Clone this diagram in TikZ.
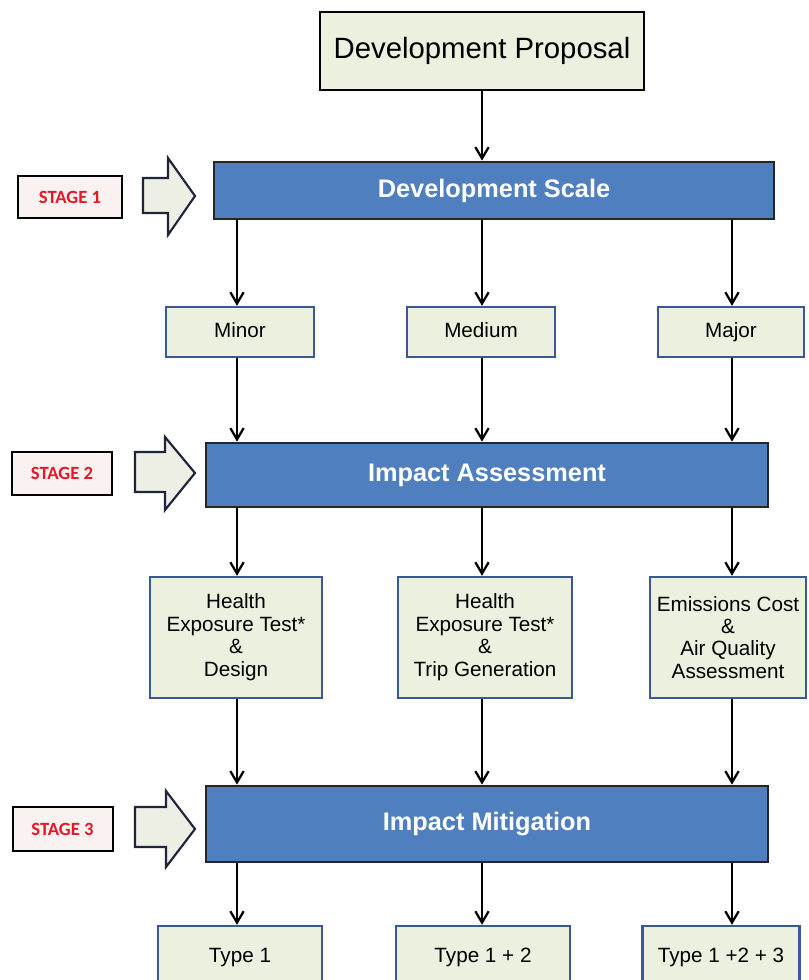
\documentclass[tikz,border=0pt]{standalone}
\usepackage{fontspec}
\setmainfont{Liberation Sans}
\newfontfamily\stagefont{Carlito}
\usetikzlibrary{arrows.meta}

\definecolor{palegreen}{RGB}{235,241,222}
\definecolor{barblue}{RGB}{79,127,190}
\definecolor{boxblue}{RGB}{58,88,148}
\definecolor{stagepink}{RGB}{249,242,240}
\definecolor{stagered}{RGB}{232,22,40}
\definecolor{arrowfill}{RGB}{238,239,228}
\definecolor{arrowedge}{RGB}{30,36,58}

\tikzset{
  propbox/.style={draw=black, line width=1.5pt, fill=palegreen, inner sep=0pt,
    font=\fontsize{22}{26}\selectfont},
  barbox/.style={draw=black!85, line width=2pt, fill=barblue, inner sep=0pt,
    text=white, font=\fontsize{19}{23}\selectfont\bfseries},
  sizebox/.style={draw=boxblue, line width=1.8pt, fill=palegreen, inner sep=0pt,
    minimum height=37.5pt, text height=11pt, text depth=3pt,
    font=\fontsize{15.5}{17}\selectfont},
  testbox/.style={draw=boxblue, line width=1.8pt, fill=palegreen, inner sep=0pt,
    minimum height=90.75pt, align=center,
    font=\fontsize{15.5}{16.8}\selectfont},
  typebox/.style={sizebox, minimum height=46.5pt},
  stagebox/.style={draw=black, line width=1.5pt, fill=stagepink, inner sep=0pt,
    text=stagered, font=\fontsize{14}{16}\stagefont\bfseries},
  stagearrow/.style={draw=arrowedge, line width=1.6pt, fill=arrowfill, line join=miter},
  flow/.style={-{Straight Barb[length=8.5pt,width=10pt]}, line width=1.7pt}
}

\begin{document}
\begin{tikzpicture}[x=0.75pt,y=0.75pt,yscale=-1,xscale=1]
\clip (0,0) rectangle (808,980);

% columns of the connectors
\coordinate (c1) at (237,0);
\coordinate (c2) at (482,0);
\coordinate (c3) at (732,0);

% top
\node [propbox, minimum width=243pt, minimum height=58.5pt] (prop) at (482,51) {Development Proposal};

% stage bars
\node [barbox, minimum width=420pt, minimum height=42.75pt] (scale) at (494,190.5) {Development Scale};
\node [barbox, minimum width=421.5pt, minimum height=48pt] (assess) at (487,475) {Impact Assessment};
\node [barbox, minimum width=421.5pt, minimum height=57pt] (mitig) at (487,824) {Impact Mitigation};

% stage labels
\node [stagebox, minimum width=78pt, minimum height=31.5pt] (st1) at (70,197) {STAGE 1};
\node [stagebox, minimum width=75pt, minimum height=32.25pt] (st2) at (62,473.5) {STAGE 2};
\node [stagebox, minimum width=75pt, minimum height=33pt] (st3) at (62.5,829) {STAGE 3};

% block arrows
\draw [stagearrow] (143,178) -- (168,178) -- (168,158) -- (195,196) -- (168,235) -- (168,213) -- (143,213) -- cycle ;
\draw [stagearrow] (135,452) -- (165,452) -- (165,437) -- (195,473) -- (165,510) -- (165,492) -- (135,492) -- cycle ;
\draw [stagearrow] (135,807) -- (166,807) -- (166,791) -- (195,829) -- (166,867) -- (166,847) -- (135,847) -- cycle ;

% development scale
\node [sizebox, minimum width=111pt] (minor) at (240,332) {Minor};
\node [sizebox, minimum width=111pt] (medium) at (481,332) {Medium};
\node [sizebox, minimum width=109.5pt] (major) at (731,332) {Major};

% impact assessment
\node [testbox, minimum width=129pt] (design) at (236,637.5) {\\[-6pt]Health\\Exposure Test*\\\&\\Design};
\node [testbox, minimum width=130.5pt] (trip) at (485,637.5) {\\[-6pt]Health\\Exposure Test*\\\&\\Trip Generation};
\node [testbox, minimum width=117pt] (emis) at (728,637.5) {\\[-6pt]Emissions Cost\\\&\\Air Quality\\Assessment};

% impact mitigation
\node [typebox, minimum width=123pt] (type1) at (240,957) {Type 1};
\node [typebox, minimum width=130.5pt] (type2) at (483,957) {Type 1 + 2};
\node [typebox, minimum width=117.75pt] (type3) at (721,957) {Type 1 +2 + 3};

% connectors
\draw [flow] (prop.south -| c2) -- (scale.north -| c2);

\draw [flow] (scale.south -| c1) -- (minor.north -| c1);
\draw [flow] (scale.south -| c2) -- (medium.north -| c2);
\draw [flow] (scale.south -| c3) -- (major.north -| c3);

\draw [flow] (minor.south -| c1) -- (assess.north -| c1);
\draw [flow] (medium.south -| c2) -- (assess.north -| c2);
\draw [flow] (major.south -| c3) -- (assess.north -| c3);

\draw [flow] (assess.south -| c1) -- (design.north -| c1);
\draw [flow] (assess.south -| c2) -- (trip.north -| c2);
\draw [flow] (assess.south -| c3) -- (emis.north -| c3);

\draw [flow] (design.south -| c1) -- (mitig.north -| c1);
\draw [flow] (trip.south -| c2) -- (mitig.north -| c2);
\draw [flow] (emis.south -| c3) -- (mitig.north -| c3);

\draw [flow] (mitig.south -| c1) -- (type1.north -| c1);
\draw [flow] (mitig.south -| c2) -- (type2.north -| c2);
\draw [flow] (mitig.south -| c3) -- (type3.north -| c3);

\end{tikzpicture}
\end{document}
